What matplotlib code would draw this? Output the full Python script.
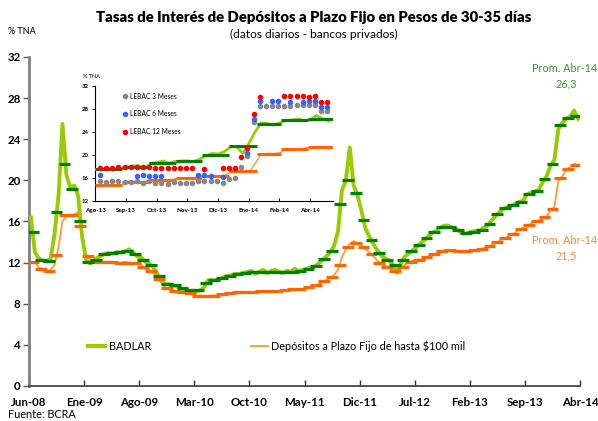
import matplotlib
matplotlib.use("Agg")
import matplotlib.pyplot as plt
import numpy as np
import pandas as pd
from matplotlib.lines import Line2D

plt.rcParams["font.family"] = ["Lato", "DejaVu Sans"]

# ----- Data -----
# main chart: monthly averages (first bar = Jul-08 ... last = Abr-14)
badlar_monthly = [
    15.0, 12.3, 12.2, 16.9, 21.6, 19.2, 16.0, 12.1, 12.3, 12.8,
    12.9, 13.0, 13.1, 12.8, 12.3, 11.8, 10.7, 9.9, 9.8, 9.5,
    9.3, 9.3, 10.0, 10.3, 10.5, 10.7, 10.9, 11.0, 11.1, 11.1,
    11.1, 11.1, 11.1, 11.1, 11.2, 11.4, 11.7, 12.4, 13.1, 17.7,
    20.0, 18.8, 16.1, 14.2, 12.9, 12.3, 11.8, 12.3, 13.1, 13.7,
    14.4, 15.0, 15.5, 15.5, 15.2, 14.9, 15.0, 15.2, 15.8, 16.7,
    17.3, 17.6, 17.9, 18.7, 19.0, 20.1, 21.6, 25.4, 26.1, 26.3,
]
deposit_monthly = [
    12.1, 11.4, 11.2, 12.7, 16.6, 16.6, 15.6, 12.6, 12.1, 12.1,
    12.1, 12.0, 12.0, 12.0, 11.6, 11.2, 10.4, 9.5, 9.2, 9.1,
    9.0, 8.8, 8.75, 8.8, 8.9, 9.0, 9.1, 9.1, 9.15, 9.2,
    9.2, 9.2, 9.3, 9.4, 9.4, 9.6, 9.8, 10.2, 10.6, 11.8,
    13.5, 13.9, 13.5, 12.8, 12.0, 11.6, 11.2, 11.6, 12.1, 12.3,
    12.5, 12.8, 13.1, 13.2, 13.1, 13.1, 13.2, 13.3, 13.6, 14.0,
    14.4, 14.8, 15.3, 15.7, 16.0, 16.4, 17.2, 20.2, 21.1, 21.5,
]

# main chart: daily series, read twice per month
badlar_daily = [
    16.4, 13.0, 12.4, 12.2, 12.1, 12.4, 14.8, 18.5, 25.5, 20.5,
    19.3, 19.5, 18.5, 14.5, 12.3, 11.9, 12.2, 12.5, 12.7, 12.9,
    12.9, 12.9, 13.0, 13.0, 13.1, 13.3, 13.0, 12.6, 12.5, 12.1,
    11.9, 11.6, 11.0, 10.3, 9.9, 9.9, 9.8, 9.7, 9.5, 9.4,
    9.3, 9.2, 9.2, 9.3, 9.6, 10.3, 10.3, 10.3, 10.4, 10.6,
    10.7, 10.8, 10.9, 10.9, 11.0, 11.1, 11.2, 10.9, 11.1, 11.3,
    11.0, 11.2, 11.3, 11.1, 11.0, 11.2, 11.1, 11.4, 11.2, 11.3,
    11.4, 11.5, 11.6, 11.9, 12.2, 12.6, 13.0, 13.6, 15.0, 19.0,
    20.0, 23.2, 19.5, 18.5, 17.0, 15.3, 14.5, 13.8, 13.2, 12.7,
    12.4, 12.2, 11.8, 11.0, 11.9, 12.6, 12.9, 13.2, 13.5, 13.9,
    14.2, 14.6, 14.9, 15.1, 15.4, 15.6, 15.6, 15.4, 15.3, 15.0,
    14.8, 14.9, 15.0, 15.1, 15.1, 15.4, 15.6, 16.1, 16.5, 16.9,
    17.2, 17.4, 17.5, 17.7, 17.9, 18.0, 18.6, 18.8, 18.9, 19.1,
    19.8, 20.4, 21.4, 22.0, 25.0, 25.6, 26.0, 26.2, 26.8, 26.0,
]
deposit_daily = [
    12.1, 12.0, 11.5, 11.4, 11.2, 11.3, 11.8, 13.5, 16.0, 16.5,
    16.6, 16.7, 16.9, 14.5, 12.8, 12.3, 12.2, 12.1, 12.1, 12.1,
    12.0, 12.1, 12.0, 12.0, 12.1, 12.0, 11.9, 11.9, 11.8, 11.4,
    11.3, 11.0, 10.7, 10.1, 9.6, 9.4, 9.3, 9.2, 9.1, 9.1,
    9.0, 8.9, 8.8, 8.8, 8.7, 8.75, 8.8, 8.8, 8.85, 8.9,
    9.0, 9.0, 9.05, 9.1, 9.1, 9.1, 9.15, 9.15, 9.2, 9.2,
    9.2, 9.2, 9.2, 9.25, 9.3, 9.3, 9.35, 9.4, 9.4, 9.45,
    9.5, 9.6, 9.7, 9.9, 10.1, 10.3, 10.5, 10.8, 11.3, 12.5,
    13.3, 13.8, 14.1, 13.9, 13.7, 13.3, 13.0, 12.6, 12.2, 11.9,
    11.7, 11.5, 11.3, 11.1, 11.4, 11.8, 12.0, 12.2, 12.3, 12.3,
    12.4, 12.6, 12.7, 12.9, 13.0, 13.2, 13.2, 13.2, 13.1, 13.1,
    13.1, 13.1, 13.1, 13.2, 13.3, 13.4, 13.5, 13.7, 13.9, 14.1,
    14.3, 14.5, 14.7, 14.9, 15.2, 15.4, 15.6, 15.8, 16.0, 16.1,
    16.3, 16.5, 17.1, 17.4, 20.0, 20.4, 21.0, 21.3, 21.6, 21.5,
]
main_tick_labels = ["Jun-08", "Ene-09", "Ago-09", "Mar-10", "Oct-10", "May-11",
                    "Dic-11", "Jul-12", "Feb-13", "Sep-13", "Abr-14"]

# inset: weekly readings of the daily series since 01-Aug-13
inset_badlar = [
    17.5, 17.5, 17.6, 17.7, 17.6, 17.8, 18.1, 18.2, 17.6, 18.6,
    18.7, 19.0, 18.6, 18.9, 19.0, 19.0, 18.9, 19.3, 19.9, 20.3,
    20.2, 20.6, 21.4, 21.5, 20.3, 22.0, 24.0, 25.6, 25.5, 25.2,
    25.6, 26.0, 26.1, 26.3, 26.0, 26.1, 26.9, 26.3, 25.9,
]
inset_deposit = [
    14.7, 14.7, 14.7, 14.7, 14.8, 15.2, 15.3, 15.3, 15.4, 15.6,
    15.7, 15.7, 15.7, 15.9, 16.0, 16.0, 16.1, 16.2, 16.3, 16.4,
    16.4, 16.5, 17.0, 17.2, 17.2, 17.0, 18.5, 20.2, 20.3, 20.3,
    20.4, 20.9, 21.1, 21.1, 21.2, 21.4, 21.5, 21.5, 21.5,
]
inset_month_start = ["2013-08-01", "2013-09-01", "2013-10-01", "2013-11-01",
                     "2013-12-01", "2014-01-01", "2014-02-01", "2014-03-01",
                     "2014-04-01", "2014-04-30"]
inset_badlar_monthly = [17.6, 17.9, 18.7, 19.0, 20.1, 21.6, 25.4, 26.1, 26.3]
inset_deposit_monthly = [14.8, 15.3, 15.7, 16.0, 16.4, 17.2, 20.2, 21.1, 21.5]
inset_tick_labels = ["Ago-13", "Sep-13", "Oct-13", "Nov-13", "Dic-13",
                     "Ene-14", "Feb-14", "Abr-14"]

# LEBAC weekly auctions (NaN = no bid that week)
nan = np.nan
lebac_3m = [
    15.46, 15.34, 15.46, 15.46, 15.34, 15.34, 15.46, 15.22, 15.46, 15.22,
    15.22, 15.05, 15.34, 15.22, 15.2, 15.2, 15.46, 15.46, 15.46, 15.46,
    15.22, 15.9, 16.1, 17.9, 19.8, 25.8, 28.6, 28.5, 28.5, 28.5,
    28.6, 28.6, 28.7, 28.7, 28.7, 28.7, 27.6, 27.6,
]
lebac_6m = [
    16.6, nan, nan, nan, nan, nan, 16.4, 16.5, 16.4, 16.4,
    16.4, nan, nan, nan, nan, nan, 16.5, 16.5, 16.4, nan,
    16.2, nan, nan, nan, 20.4, 26.3, 29.4, nan, 29.4, 29.4,
    nan, 29.3, nan, 29.3, 29.35, 29.35, 28.3, 28.3,
]
lebac_12m = [
    17.8, 17.8, 17.8, 17.9, 17.9, 17.9, 17.9, 17.9, 17.9, 17.8,
    17.8, 17.7, 17.8, 17.7, 17.7, 17.7, nan, 17.6, nan, nan,
    17.7, 17.8, 17.8, 19.6, 21.2, 27.1, 30.1, nan, nan, nan,
    30.2, 30.2, 30.2, 30.2, 30.1, 30.2, 29.2, 29.2,
]

# ----- Style -----
LIGHT_GREEN = "#99cc00"
DARK_GREEN = "#008000"
LIGHT_ORANGE = "#ff9933"
DARK_ORANGE = "#ff6600"
W, H = 598, 421


def fx(px):
    return px / W


def fy(py):
    return 1 - py / H


def main():
    fig = plt.figure(figsize=(W / 100, H / 100), dpi=100)
    ax = fig.add_axes([fx(29), fy(386), (580 - 29) / W, (386 - 57) / H])

    n = len(badlar_monthly)
    pos_m = np.arange(n) + 0.5
    pos_d = np.repeat(np.arange(n), 2) + np.tile([0.25, 0.75], n)

    ax.plot(pos_d, deposit_daily, color=LIGHT_ORANGE, lw=1.3, zorder=2)
    ax.plot(pos_d, badlar_daily, color=LIGHT_GREEN, lw=2.8, zorder=3)
    ax.hlines(deposit_monthly, pos_m - 0.75, pos_m + 0.75, color=DARK_ORANGE, lw=2.3, zorder=4)
    ax.hlines(badlar_monthly, pos_m - 0.75, pos_m + 0.75, color=DARK_GREEN, lw=2.3, zorder=5)

    ax.set_xlim(0, 70)
    ax.set_ylim(0, 32)
    ax.set_yticks(np.arange(0, 33, 4))
    ax.set_xticks(np.arange(0, 71, 7))
    ax.set_xticklabels(main_tick_labels)
    for lab in ax.get_xticklabels() + ax.get_yticklabels():
        lab.set_fontweight("bold")
    ax.tick_params(axis="y", direction="out", length=4, width=1, color="#555555",
                   labelsize=8.3, pad=2)
    ax.tick_params(axis="x", direction="in", length=4, width=1, color="#333333",
                   labelsize=8.3, pad=8)
    for side in ["top", "right"]:
        ax.spines[side].set_visible(False)
    ax.spines["left"].set_color("#808080")
    ax.spines["left"].set_linewidth(2)
    ax.spines["bottom"].set_color("#444444")
    ax.spines["bottom"].set_linewidth(1.3)

    handles = [Line2D([], [], color=LIGHT_GREEN, lw=3),
               Line2D([], [], color=LIGHT_ORANGE, lw=1.3)]
    ax.legend(handles, ["BADLAR", "Depósitos a Plazo Fijo de hasta $100 mil"],
              loc="center left", bbox_to_anchor=((88 - 29) / 551, (386 - 346) / 329),
              ncol=2, frameon=False, fontsize=7.8, borderpad=0, borderaxespad=0,
              handlelength=1.6, handletextpad=0.3, columnspacing=9.2)

    fig.text(fx(314), fy(17), "Tasas de Interés de Depósitos a Plazo Fijo en Pesos de 30-35 días",
             ha="center", va="center", fontsize=10.7, fontweight="heavy")
    fig.text(fx(314), fy(34), "(datos diarios - bancos privados)",
             ha="center", va="center", fontsize=8.6)
    fig.text(fx(8), fy(32), "% TNA", ha="left", va="center", fontsize=6.5)
    fig.text(fx(8), fy(414), "Fuente: BCRA", ha="left", va="center", fontsize=7.8)

    # month-average labels, kept just inside the right edge
    fig.text(fx(597), fy(69), "Prom. Abr-14", ha="right", va="center",
             fontsize=7.8, color="#339933")
    fig.text(fx(566), fy(84), f"{badlar_monthly[-1]:.1f}".replace(".", ","),
             ha="center", va="center", fontsize=7.8, color="#339933")
    fig.text(fx(597), fy(241), "Prom. Abr-14", ha="right", va="center",
             fontsize=7.8, color="#f5883f")
    fig.text(fx(566), fy(256), f"{deposit_monthly[-1]:.1f}".replace(".", ","),
             ha="center", va="center", fontsize=7.8, color="#f5883f")

    # ----- Inset -----
    ins = fig.add_axes([fx(95.3), fy(201.3), (333 - 95.3) / W, (201.3 - 86) / H])
    ins.set_facecolor("none")
    start = pd.Timestamp(inset_month_start[0])
    edges = np.array([(pd.Timestamp(d) - start).days for d in inset_month_start])
    days = np.arange(len(inset_badlar)) * 7
    weeks = np.arange(len(lebac_3m)) * 7 + 5.4

    ins.plot(days, inset_deposit, color=LIGHT_ORANGE, lw=1.0, zorder=2)
    ins.plot(days, inset_badlar, color=LIGHT_GREEN, lw=2.0, zorder=3)
    ins.hlines(inset_deposit_monthly, edges[:-1], edges[1:], color=DARK_ORANGE, lw=2.2, zorder=4)
    ins.hlines(inset_badlar_monthly, edges[:-1], edges[1:], color=DARK_GREEN, lw=2.2, zorder=5)

    ins.plot(weeks, lebac_3m, "o", color="#888888", ms=3, label="LEBAC 3 Meses", zorder=6)
    ins.plot(weeks, lebac_6m, "o", color="#3366ff", ms=3, label="LEBAC 6 Meses", zorder=6)
    ins.plot(weeks, lebac_12m, "o", color="#ff0000", ms=3, label="LEBAC 12 Meses", zorder=6)
    ins.legend(loc="upper left", bbox_to_anchor=(0.1, 0.97), frameon=False, fontsize=4.8,
               handlelength=0.8, handletextpad=0.3, labelspacing=1.6, borderpad=0,
               markerscale=1.0)

    ins.set_xlim(0, 271)
    ins.set_ylim(12, 32)
    ins.set_yticks(np.arange(12, 33, 4))
    ins.set_xticks(np.arange(0, 250, 35))
    ins.set_xticklabels(inset_tick_labels)
    for lab in ins.get_xticklabels() + ins.get_yticklabels():
        lab.set_fontweight("bold")
    ins.tick_params(axis="y", direction="out", length=2.5, width=0.7, labelsize=4.3, pad=2)
    ins.tick_params(axis="x", direction="in", length=2.5, width=0.7, labelsize=4.5, pad=5)
    for side in ["top", "right"]:
        ins.spines[side].set_visible(False)
    for side in ["left", "bottom"]:
        ins.spines[side].set_linewidth(0.8)
    fig.text(fx(83), fy(76), "% TNA", ha="left", va="center", fontsize=4)

    fig.savefig("out.png", dpi=100)


if __name__ == "__main__":
    main()
